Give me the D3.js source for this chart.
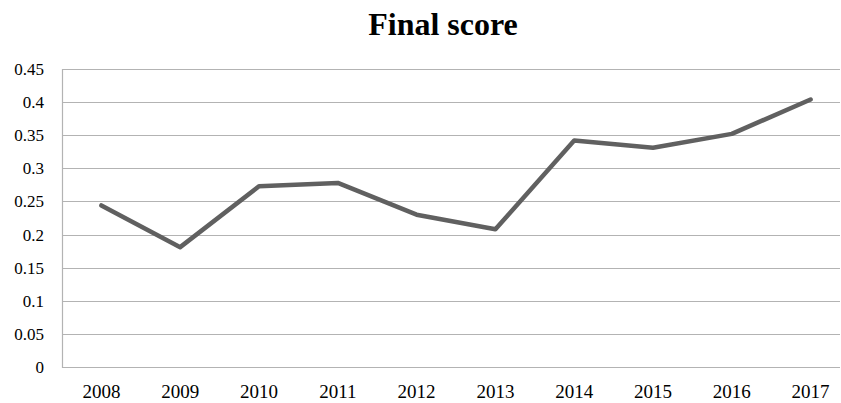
<!DOCTYPE html>
<html>
<head>
	<meta charset="utf-8">
	<script src="https://d3js.org/d3.v7.min.js"></script>
	<style>
		body { margin: 0; background: #fff; }
	</style>
</head>
<body>
	<svg id="SVG" width="841" height="403" font-family="'Liberation Serif', 'Times New Roman', serif"></svg>
	<script>
	var years = ["2008", "2009", "2010", "2011", "2012", "2013", "2014", "2015", "2016", "2017"];
	var scores = [0.244, 0.181, 0.273, 0.278, 0.230, 0.208, 0.342, 0.331, 0.352, 0.404];
	var yTicks = [0, 0.05, 0.1, 0.15, 0.2, 0.25, 0.3, 0.35, 0.4, 0.45];
	var yTickLabels = ["0", "0.05", "0.1", "0.15", "0.2", "0.25", "0.3", "0.35", "0.4", "0.45"];

	var svg = d3.select("#SVG"),
		plotLeft = 62,
		plotRight = 840,
		plotTop = 69,
		plotBottom = 367;

	// categories run a little past the right edge, like the cropped original
	var x = d3.scaleBand()
		.domain(years)
		.range([plotLeft, 850])
		.padding(0);

	var y = d3.scaleLinear()
		.domain([0, 0.45])
		.range([plotBottom, plotTop]);

	svg.append("text")
		.attr("x", 443)
		.attr("y", 35)
		.attr("text-anchor", "middle")
		.attr("font-size", 32)
		.attr("font-weight", "bold")
		.attr("fill", "#000")
		.text("Final score");

	// gridlines
	svg.append("g")
		.selectAll("line")
		.data(yTicks)
		.enter().append("line")
			.attr("x1", plotLeft)
			.attr("x2", plotRight)
			.attr("y1", function(d) { return Math.round(y(d)) + 0.5; })
			.attr("y2", function(d) { return Math.round(y(d)) + 0.5; })
			.attr("stroke", "#b3b3b3")
			.attr("stroke-width", 1.2);

	svg.append("line")
		.attr("x1", plotLeft + 0.5)
		.attr("x2", plotLeft + 0.5)
		.attr("y1", Math.round(y(0.45)))
		.attr("y2", Math.round(y(0)) + 1)
		.attr("stroke", "#b3b3b3")
		.attr("stroke-width", 1.2);

	// y labels
	svg.append("g")
		.attr("text-anchor", "end")
		.selectAll("text")
		.data(yTicks)
		.enter().append("text")
			.attr("x", 44)
			.attr("y", function(d) { return y(d); })
			.attr("dy", "0.35em")
			.attr("font-size", 17)
			.attr("fill", "#000")
			.text(function(d, i) { return yTickLabels[i]; });

	// x labels
	svg.append("g")
		.attr("text-anchor", "middle")
		.selectAll("text")
		.data(years)
		.enter().append("text")
			.attr("x", function(d) { return x(d) + x.bandwidth() / 2; })
			.attr("y", 398)
			.attr("font-size", 19)
			.attr("fill", "#000")
			.text(function(d) { return d; });

	var line = d3.line()
		.x(function(d, i) { return x(years[i]) + x.bandwidth() / 2; })
		.y(function(d) { return y(d); });

	svg.append("path")
		.datum(scores)
		.attr("d", line)
		.attr("fill", "none")
		.attr("stroke", "#606060")
		.attr("stroke-width", 4.5)
		.attr("stroke-linejoin", "round")
		.attr("stroke-linecap", "round");
	</script>
</body>
</html>
